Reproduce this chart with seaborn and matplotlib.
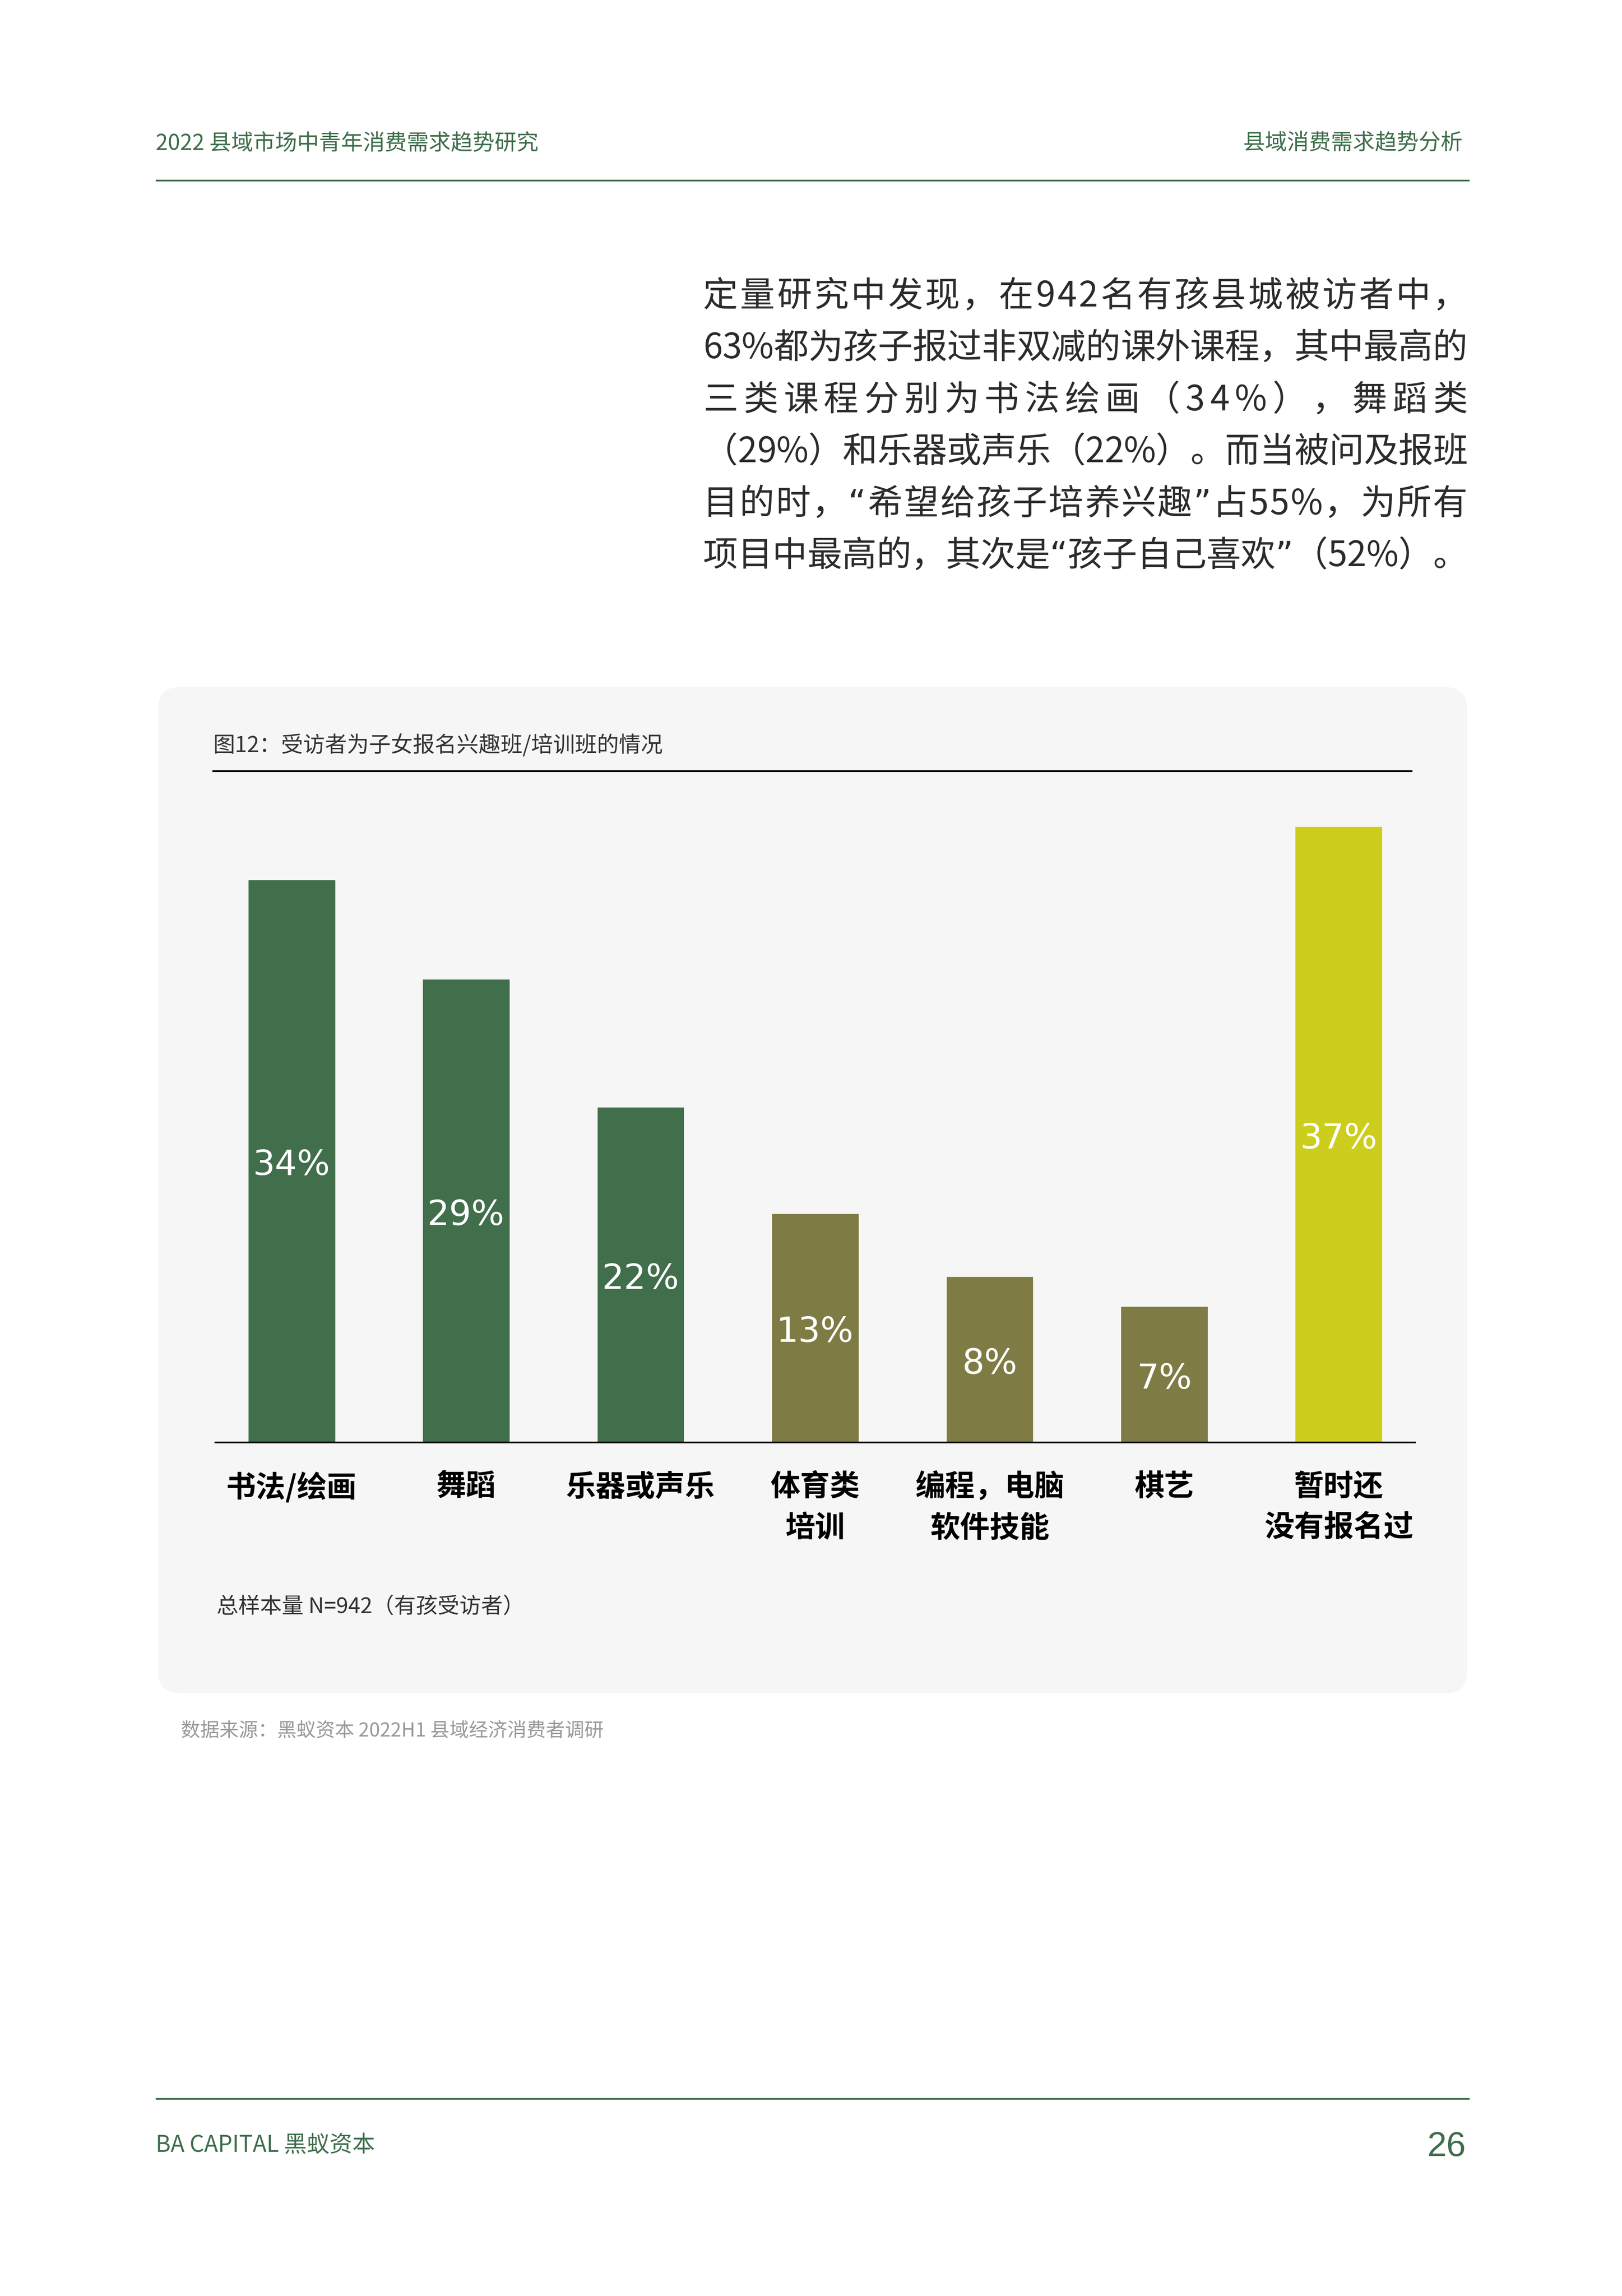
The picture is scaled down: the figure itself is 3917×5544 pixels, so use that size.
import matplotlib
import seaborn as sns

matplotlib.use("Agg")
import matplotlib.pyplot as plt
from matplotlib import font_manager
from matplotlib.font_manager import FontProperties
from matplotlib.ft2font import FT2Font
from matplotlib.patches import FancyBboxPatch
from matplotlib.transforms import offset_copy


W, H, DPI = 3917, 5544, 100

# chart data
categories = ["书法/绘画", "舞蹈", "乐器或声乐", "体育类\n培训", "编程，电脑\n软件技能", "棋艺", "暂时还\n没有报名过"]
value_labels = ["34%", "29%", "22%", "13%", "8%", "7%", "37%"]
bar_heights = [33.9, 27.9, 20.2, 13.8, 10.0, 8.2, 37.1]  # as drawn in the source picture

header_left = "2022 县域市场中青年消费需求趋势研究"
header_right = "县域消费需求趋势分析"
chart_title = "图12：受访者为子女报名兴趣班/培训班的情况"
sample_note = "总样本量 N=942（有孩受访者）"
source_note = "数据来源：黑蚁资本 2022H1 县域经济消费者调研"
footer_left = "BA CAPITAL 黑蚁资本"
page_number = "26"

paragraph_lines = [
    "定量研究中发现，在942名有孩县城被访者中，",
    "63%都为孩子报过非双减的课外课程，其中最高的",
    "三类课程分别为书法绘画（34%），舞蹈类",
    "（29%）和乐器或声乐（22%）。而当被问及报班",
    "目的时，“希望给孩子培养兴趣”占55%，为所有",
    "项目中最高的，其次是“孩子自己喜欢”（52%）。",
]

GREEN = "#3f6e4b"
BAR_COLORS = ["#416e4b", "#416e4b", "#416e4b", "#7e7c44", "#7e7c44", "#7e7c44", "#cdcd1e"]
CARD = "#f6f6f6"
CJK = ["Noto Sans CJK SC", "DejaVu Sans"]


def pt(pixels: float) -> float:
    return pixels * 72 / DPI


def make_advance(family: str, size_pt: float):
    ft = FT2Font(font_manager.findfont(FontProperties(family=family)))
    ft.set_size(size_pt, 72)

    def advance(ch: str) -> float:
        return ft.load_char(ord(ch)).linearHoriAdvance / 65536 * DPI / 72

    return advance


def draw_paragraph(ax, lines, x0, x1, first_baseline, step, size_px, color):
    size = pt(size_px)
    adv_cjk = make_advance("Noto Sans CJK SC", size)
    adv_lat = make_advance("DejaVu Sans", size)
    for i, line in enumerate(lines):
        fams = [["DejaVu Sans"] if ch in "“”" else CJK for ch in line]
        advs = [adv_lat(ch) if ch in "“”" else adv_cjk(ch) for ch in line]
        natural = sum(advs)
        last = i == len(lines) - 1
        gap = 0 if (last and natural < x1 - x0) else (x1 - x0 - natural) / (len(line) - 1)
        x = x0
        y = first_baseline + i * step
        for ch, a, fam in zip(line, advs, fams):
            ax.text(x, y, ch, family=fam, fontsize=size, color=color, ha="left", va="baseline")
            x += a + gap


sns.set_theme(style="white")
plt.rcParams["font.family"] = CJK

fig = plt.figure(figsize=(W / DPI, H / DPI), dpi=DPI, facecolor="white")
bg = fig.add_axes([0, 0, 1, 1])
bg.set_xlim(0, W)
bg.set_ylim(H, 0)
bg.axis("off")

# header / footer
bg.text(376, 346, header_left, fontsize=pt(53), color=GREEN, ha="left", va="center")
bg.text(3532, 346, header_right, fontsize=pt(53), color=GREEN, ha="right", va="center")
bg.plot([376, 3549], [436, 436], color=GREEN, lw=pt(4), solid_capstyle="butt")
bg.plot([376, 3549], [5068, 5068], color=GREEN, lw=pt(4), solid_capstyle="butt")
bg.text(376, 5180, footer_left, fontsize=pt(55), color=GREEN, ha="left", va="center")
bg.text(3540, 5184, page_number, fontsize=pt(84), color=GREEN, ha="right", va="center",
        family=["Liberation Sans", "DejaVu Sans"])

draw_paragraph(bg, paragraph_lines, 1698, 3544, 740, 125.4, 84, "#2b2b2b")

# card
bg.add_patch(FancyBboxPatch((382, 1659), 3161, 2430, boxstyle="round,pad=0,rounding_size=53",
                            facecolor=CARD, edgecolor="none", zorder=0))
bg.text(515, 1800, chart_title, fontsize=pt(53), color="#333333", ha="left", va="center")
bg.plot([513, 3411], [1862, 1862], color="black", lw=pt(4), solid_capstyle="butt")
bg.text(523, 3880, sample_note, fontsize=pt(52.5), color="#333333", ha="left", va="center")
bg.text(437, 4180, source_note, fontsize=pt(46.5), color="#999999", ha="left", va="center")

# bar chart
ax_left, ax_right, ax_bottom, ax_top = 520, 3417, 3483, 1879
ax = fig.add_axes([ax_left / W, 1 - ax_bottom / H, (ax_right - ax_left) / W, (ax_bottom - ax_top) / H])
ax.set_facecolor("none")
sns.barplot(x=categories, y=bar_heights, hue=categories, palette=BAR_COLORS, width=0.5,
            saturation=1, legend=False, ax=ax)
ax.set_xlim(-0.437, len(categories) - 1 + 0.437)
ax.set_ylim(0, 40)
for side in ["left", "right", "top"]:
    ax.spines[side].set_visible(False)
ax.spines["bottom"].set_color("black")
ax.spines["bottom"].set_linewidth(pt(4))
ax.set_yticks([])
ax.set_xlabel("")
ax.set_ylabel("")
ax.tick_params(axis="x", length=0, pad=pt(72))
for lab in ax.get_xticklabels():
    lab.set_fontsize(pt(72))
    lab.set_fontweight("bold")
    lab.set_color("black")
    lab.set_linespacing(1.47)
    lab.set_family(CJK)

label_tf = offset_copy(ax.transData, fig=fig, y=-pt(34), units="points")
for i, (h, lab) in enumerate(zip(bar_heights, value_labels)):
    ax.text(i, h / 2, lab, color="white", ha="center", va="baseline", fontsize=pt(84),
            family=["DejaVu Sans"], transform=label_tf)

fig.savefig("out.png", dpi=DPI, facecolor="white")
